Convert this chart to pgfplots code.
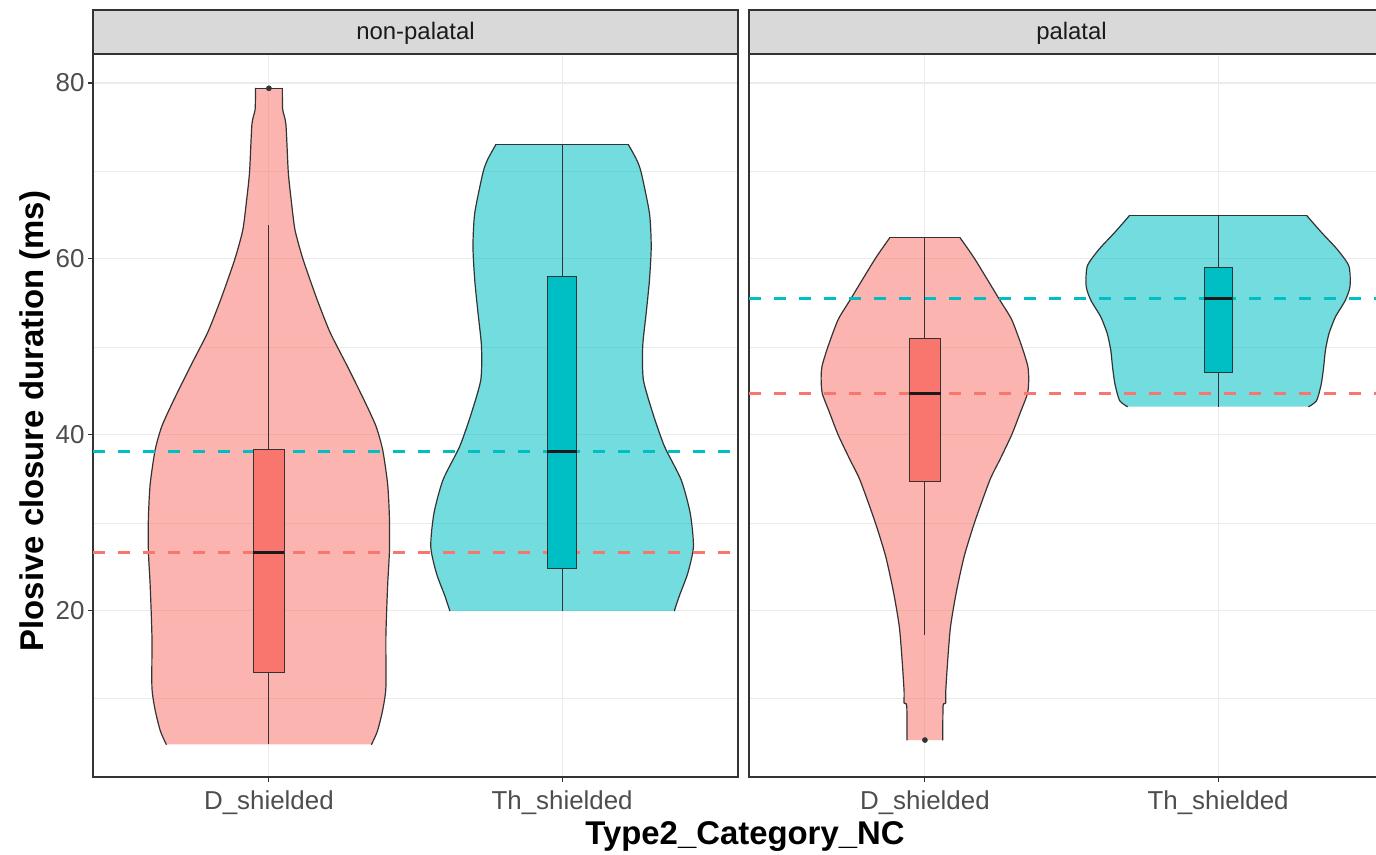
\documentclass[border=0pt]{standalone}
\usepackage{fontspec}
\setmainfont{Liberation Sans}
\usepackage{pgfplots}
\usepackage{pgfplotstable}
\pgfplotsset{compat=1.18}
\definecolor{gred}{HTML}{F8766D}
\definecolor{gcyan}{HTML}{00BFC4}
\definecolor{g20}{HTML}{333333}
\definecolor{g30}{HTML}{4D4D4D}
\definecolor{g10}{HTML}{1A1A1A}
\definecolor{gridc}{HTML}{EBEBEB}
\definecolor{stripc}{HTML}{D9D9D9}

% violin outlines: value v, half width w (x units), side s (+1 right, -1 left)
\pgfplotstableread{
v w s
4.8 0.35 1
6.3 0.37 1
8.7 0.388 1
11.3 0.399 1
17.1 0.399 1
22.9 0.405 1
26.7 0.411 1
30.6 0.411 1
34.4 0.405 1
38.3 0.388 1
41.0 0.365 1
44.0 0.324 1
47.9 0.266 1
51.7 0.208 1
55.6 0.162 1
60.0 0.116 1
63.3 0.089 1
66.7 0.076 1
69.9 0.066 1
75.3 0.058 1
77.0 0.047 1
79.4 0.046 1
79.4 0.046 -1
77.0 0.047 -1
75.3 0.058 -1
69.9 0.066 -1
66.7 0.076 -1
63.3 0.089 -1
60.0 0.116 -1
55.6 0.162 -1
51.7 0.208 -1
47.9 0.266 -1
44.0 0.324 -1
41.0 0.365 -1
38.3 0.388 -1
34.4 0.405 -1
30.6 0.411 -1
26.7 0.411 -1
22.9 0.405 -1
17.1 0.399 -1
11.3 0.399 -1
8.7 0.388 -1
6.3 0.37 -1
4.8 0.35 -1
}\vLD
\pgfplotstableread{
v w s
20.0 0.383 1
21.7 0.40 1
24.3 0.429 1
27.3 0.448 1
31.1 0.437 1
34.9 0.406 1
38.7 0.349 1
42.5 0.309 1
46.3 0.277 1
50.1 0.275 1
53.9 0.287 1
57.6 0.298 1
61.4 0.304 1
65.2 0.298 1
69.8 0.27 1
71.3 0.254 1
73.0 0.226 1
73.0 0.226 -1
71.3 0.254 -1
69.8 0.27 -1
65.2 0.298 -1
61.4 0.304 -1
57.6 0.298 -1
53.9 0.287 -1
50.1 0.275 -1
46.3 0.277 -1
42.5 0.309 -1
38.7 0.349 -1
34.9 0.406 -1
31.1 0.437 -1
27.3 0.448 -1
24.3 0.429 -1
21.7 0.40 -1
20.0 0.383 -1
}\vLT
\pgfplotstableread{
v w s
5.3 0.061 1
9.2 0.062 1
9.5 0.071 1
10.8 0.071 1
14.0 0.077 1
18.1 0.087 1
22.1 0.107 1
26.2 0.134 1
30.2 0.171 1
34.9 0.222 1
37.2 0.256 1
40.0 0.296 1
42.5 0.325 1
44.7 0.35 1
46.3 0.354 1
47.8 0.351 1
50.0 0.331 1
53.1 0.296 1
55.4 0.254 1
60.0 0.17 1
62.4 0.12 1
62.4 0.12 -1
60.0 0.17 -1
55.4 0.254 -1
53.1 0.296 -1
50.0 0.331 -1
47.8 0.351 -1
46.3 0.354 -1
44.7 0.35 -1
42.5 0.325 -1
40.0 0.296 -1
37.2 0.256 -1
34.9 0.222 -1
30.2 0.171 -1
26.2 0.134 -1
22.1 0.107 -1
18.1 0.087 -1
14.0 0.077 -1
10.8 0.071 -1
9.5 0.071 -1
9.2 0.062 -1
5.3 0.061 -1
}\vRD
\pgfplotstableread{
v w s
43.2 0.309 1
43.9 0.336 1
45.8 0.352 1
47.7 0.36 1
49.6 0.366 1
51.5 0.378 1
53.4 0.40 1
55.3 0.434 1
56.9 0.45 1
59.2 0.446 1
61.1 0.406 1
63.0 0.353 1
64.9 0.303 1
64.9 0.303 -1
63.0 0.353 -1
61.1 0.406 -1
59.2 0.446 -1
56.9 0.45 -1
55.3 0.434 -1
53.4 0.40 -1
51.5 0.378 -1
49.6 0.366 -1
47.7 0.36 -1
45.8 0.352 -1
43.9 0.336 -1
43.2 0.309 -1
}\vRT

\pgfplotsset{
  facet/.style={
    scale only axis, width=645bp, height=723bp,
    xmin=0.4, xmax=2.6, ymin=1.1, ymax=83.3,
    xtick={1,2}, xticklabels={D\_shielded, Th\_shielded},
    ytick={20,40,60,80}, minor ytick={10,30,50,70},
    grid=both,
    major grid style={draw=gridc, line width=1.1bp},
    minor grid style={draw=gridc, line width=0.6bp},
    axis line style={draw=g20, line width=1.1bp},
    tick style={draw=g20, line width=1.1bp},
    tick align=outside, major tick length=5bp, minor tick length=0.01bp,
    xtick pos=bottom,
    ticklabel style={font=\fontsize{26}{30}\selectfont, text=g30},
    xticklabel style={yshift=-5bp},
    /pgf/number format/assume math mode=true,
    clip=false,
  },
  vline/.style={draw=g20, line width=1.2bp, line join=round, line cap=round},
  hl/.style={line width=2.6bp, dash pattern=on 12bp off 13bp},
  bx/.style={draw=g20, line width=1.0bp},
  wh/.style={draw=g20, line width=1.0bp},
  md/.style={draw=g10, line width=2.6bp},
  ol/.style={only marks, mark=*, mark size=2.6bp, draw=g20, fill=g20},
}
% #1 table, #2 centre, #3 colour, #4 lowest value, #5 highest value
\newcommand\violin[5]{%
  \addplot[fill=#3, fill opacity=0.55, draw=none] table[x expr=#2+\thisrow{s}*\thisrow{w}, y=v]{#1};
  \addplot[vline, smooth, tension=0.4] table[x expr=#2+\thisrow{s}*\thisrow{w}, y=v, restrict expr to domain={\thisrow{s}}{0:2}]{#1};
  \addplot[vline, smooth, tension=0.4] table[x expr=#2+\thisrow{s}*\thisrow{w}, y=v, restrict expr to domain={\thisrow{s}}{-2:0}]{#1};
  \addplot[vline] table[x expr=#2+\thisrow{s}*\thisrow{w}, y=v, restrict expr to domain={abs(\thisrow{v}-#5)}{0:0.01}]{#1};
  \addplot[vline] table[x expr=#2+\thisrow{s}*\thisrow{w}, y=v, restrict expr to domain={abs(\thisrow{v}-#4)}{0:0.01}]{#1};
}

\begin{document}
\begin{tikzpicture}
% ---------------- left facet ----------------
\begin{axis}[facet, at={(93bp,78bp)}, anchor=south west, ytick pos=left]
\violin{\vLD}{1}{gred}{4.8}{79.4}
\violin{\vLT}{2}{gcyan}{20.0}{73.0}
\addplot[hl, gred] coordinates {(0.4,26.6) (2.6,26.6)};
\addplot[hl, gcyan] coordinates {(0.4,38.1) (2.6,38.1)};
% D_shielded box: whiskers 4.8-63.9, box 13.0-38.3, median 26.6
\addplot[wh] coordinates {(1,4.8) (1,13.0)};
\addplot[wh] coordinates {(1,38.3) (1,63.9)};
\addplot[bx, fill=gred] coordinates {(0.947,13.0) (1.053,13.0) (1.053,38.3) (0.947,38.3) (0.947,13.0)};
\addplot[md] coordinates {(0.947,26.6) (1.053,26.6)};
\addplot[ol] coordinates {(1,79.4)};
% Th_shielded box: whiskers 20-73, box 24.8-58.0, median 38.1
\addplot[wh] coordinates {(2,20.0) (2,24.8)};
\addplot[wh] coordinates {(2,58.0) (2,73.0)};
\addplot[bx, fill=gcyan] coordinates {(1.95,24.8) (2.05,24.8) (2.05,58.0) (1.95,58.0) (1.95,24.8)};
\addplot[md] coordinates {(1.95,38.1) (2.05,38.1)};
\draw[fill=stripc, draw=g20, line width=1.1bp] (rel axis cs:0,1) rectangle ([yshift=44bp]rel axis cs:1,1);
\node[font=\fontsize{24}{28}\selectfont, text=g10] at ([yshift=21bp]rel axis cs:0.5,1) {non-palatal};
\end{axis}
% ---------------- right facet ----------------
\begin{axis}[facet, at={(749bp,78bp)}, anchor=south west, ytick pos=right, yticklabel=\empty]
\violin{\vRD}{1}{gred}{5.3}{62.4}
\violin{\vRT}{2}{gcyan}{43.2}{64.9}
\addplot[hl, gcyan] coordinates {(0.4,55.5) (2.6,55.5)};
\addplot[hl, gred] coordinates {(0.4,44.7) (2.6,44.7)};
% D_shielded box: whiskers 17.3-62.4, box 34.7-50.9, median 44.7
\addplot[wh] coordinates {(1,17.3) (1,34.7)};
\addplot[wh] coordinates {(1,50.9) (1,62.4)};
\addplot[bx, fill=gred] coordinates {(0.946,34.7) (1.054,34.7) (1.054,50.9) (0.946,50.9) (0.946,34.7)};
\addplot[md] coordinates {(0.946,44.7) (1.054,44.7)};
\addplot[ol] coordinates {(1,5.3)};
% Th_shielded box: whiskers 43.2-64.9, box 47.1-59.0, median 55.5
\addplot[wh] coordinates {(2,43.2) (2,47.1)};
\addplot[wh] coordinates {(2,59.0) (2,64.9)};
\addplot[bx, fill=gcyan] coordinates {(1.952,47.1) (2.048,47.1) (2.048,59.0) (1.952,59.0) (1.952,47.1)};
\addplot[md] coordinates {(1.952,55.5) (2.048,55.5)};
\draw[fill=stripc, draw=g20, line width=1.1bp] (rel axis cs:0,1) rectangle ([yshift=44bp]rel axis cs:1,1);
\node[font=\fontsize{24}{28}\selectfont, text=g10] at ([yshift=21bp]rel axis cs:0.5,1) {palatal};
\end{axis}
% axis titles
\node[font=\bfseries\fontsize{33}{40}\selectfont] at (745bp,18bp) {Type2\_Category\_NC};
\node[font=\bfseries\fontsize{33}{40}\selectfont, rotate=90] at (35bp,434bp) {Plosive closure duration (ms)};
\pgfresetboundingbox
\useasboundingbox (0,0) rectangle (1376bp,855bp);
\end{tikzpicture}
\end{document}
